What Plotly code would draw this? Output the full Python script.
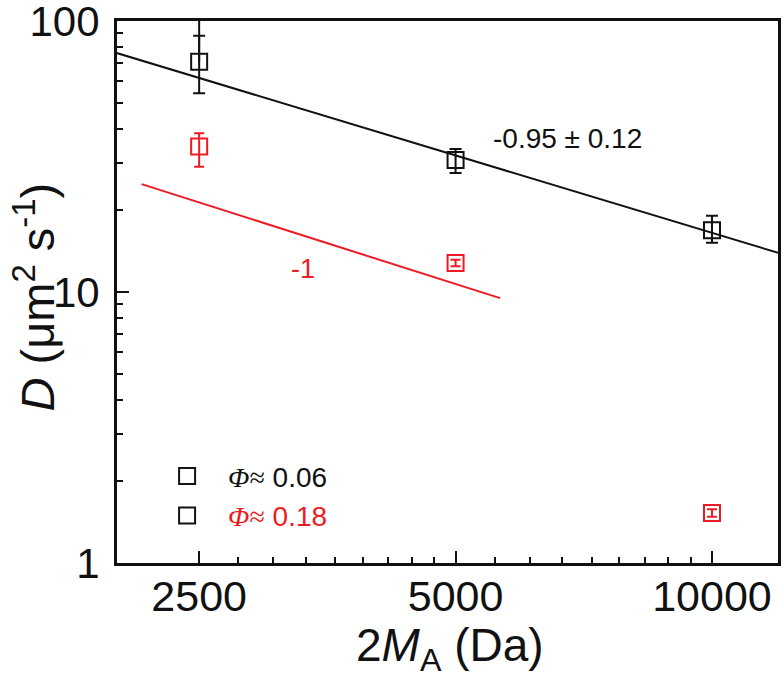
import plotly.graph_objects as go

# ---- data ----
mass = [2500, 5000, 10000]

d_low = [70.8, 30.7, 16.9]          # Phi ~ 0.06 (black)
d_low_up = [17.5, 3.0, 2.2]
d_low_dn = [16.7, 3.2, 1.7]
d_low_outer_up = [45.0]             # outer whisker of the 2500 point (runs past the frame)

d_high = [34.4, 12.8, 1.53]         # Phi ~ 0.18 (red)
d_high_up = [4.1, 0.35, 0.05]
d_high_dn = [5.4, 0.35, 0.05]

fit_low_x = [2000, 12000]           # slope -0.95 +/- 0.12
fit_low_y = [76.2, 13.9]
fit_high_x = [2140, 5640]           # slope -1 guide
fit_high_y = [25.0, 9.49]

x_tick_vals = [2500, 5000, 10000]
x_tick_text = ["2500", "5000", "10000"]
x_minor_vals = [2500 * (1 + k / 9) for k in range(1, 9)] + [5000 * (1 + k / 9) for k in range(1, 9)]
y_tick_vals = [1, 10, 100]
y_tick_text = ["1", "10", "100"]
y_minor_vals = [m * d for d in (1, 10) for m in range(2, 10)]

BLACK = "#111111"
RED = "#ED1C24"
FONT = "Liberation Sans, Arial, sans-serif"
SERIF = "Liberation Serif, Times New Roman, serif"

fig = go.Figure()

# fit lines
fig.add_trace(go.Scatter(x=fit_low_x, y=fit_low_y, mode="lines",
                         line=dict(color=BLACK, width=2), showlegend=False, hoverinfo="skip"))
fig.add_trace(go.Scatter(x=fit_high_x, y=fit_high_y, mode="lines",
                         line=dict(color=RED, width=2), showlegend=False, hoverinfo="skip"))

# outer whisker of first black point
fig.add_trace(go.Scatter(
    x=mass[:1], y=d_low[:1], mode="none", showlegend=False, hoverinfo="skip",
    error_y=dict(type="data", array=d_low_outer_up, arrayminus=[0], symmetric=False,
                 color=BLACK, thickness=2, width=0)))

# data
fig.add_trace(go.Scatter(
    x=mass, y=d_low, mode="markers", showlegend=False,
    marker=dict(symbol="square-open", size=16, color=BLACK, line=dict(width=2)),
    error_y=dict(type="data", array=d_low_up, arrayminus=d_low_dn, symmetric=False,
                 color=BLACK, thickness=2, width=6)))
fig.add_trace(go.Scatter(
    x=mass, y=d_high, mode="markers", showlegend=False,
    marker=dict(symbol="square-open", size=16, color=RED, line=dict(width=2)),
    error_y=dict(type="data", array=d_high_up, arrayminus=d_high_dn, symmetric=False,
                 color=RED, thickness=2, width=5)))

# legend entries (black squares, coloured labels)
phi = f"<span style=\"font-family:{SERIF}\"><i>Φ</i>≈</span>"
fig.add_trace(go.Scatter(x=[None], y=[None], mode="markers",
                         marker=dict(symbol="square-open", size=16, color=BLACK, line=dict(width=2)),
                         name=f"<span style='color:{BLACK}'>{phi} 0.06</span>"))
fig.add_trace(go.Scatter(x=[None], y=[None], mode="markers",
                         marker=dict(symbol="square-open", size=16, color=BLACK, line=dict(width=2)),
                         name=f"<span style='color:{RED}'>{phi} 0.18</span>"))

fig.update_layout(
    width=783, height=678,
    margin=dict(l=117, r=5, t=21, b=115, autoexpand=False),
    paper_bgcolor="white", plot_bgcolor="white",
    font=dict(family=FONT, color=BLACK),
    showlegend=True,
    legend=dict(x=0.044, y=0.206, xanchor="left", yanchor="top",
                bgcolor="rgba(0,0,0,0)", font=dict(size=28, family=FONT),
                itemwidth=72, tracegroupgap=0),
    xaxis=dict(type="log", range=[3.3015, 4.0775], automargin=False,
               tickvals=x_tick_vals, ticktext=x_tick_text,
               ticks="inside", ticklen=12, tickwidth=2, tickcolor=BLACK,
               minor=dict(tickvals=x_minor_vals, ticks="inside", ticklen=6, tickwidth=2,
                          tickcolor=BLACK, showgrid=False),
               showline=True, linewidth=3, linecolor=BLACK, mirror=True,
               showgrid=False, zeroline=False, ticklabeloverflow="allow",
               tickfont=dict(size=43, family=FONT, color=BLACK), ticklabelstandoff=-7),
    yaxis=dict(type="log", range=[0, 2], automargin=False,
               tickvals=y_tick_vals, ticktext=y_tick_text,
               ticks="inside", ticklen=12, tickwidth=2, tickcolor=BLACK,
               minor=dict(tickvals=y_minor_vals, ticks="inside", ticklen=6, tickwidth=2,
                          tickcolor=BLACK, showgrid=False),
               showline=True, linewidth=3, linecolor=BLACK, mirror=True,
               showgrid=False, zeroline=False, ticklabeloverflow="allow",
               tickfont=dict(size=42, family=FONT, color=BLACK), ticklabelstandoff=6),
    annotations=[
        dict(text="-0.95 ± 0.12", xref="paper", yref="paper", x=0.682, y=0.784,
             xanchor="center", yanchor="middle",
             showarrow=False, font=dict(size=28, color=BLACK, family=FONT)),
        dict(text="-1", xref="paper", yref="paper", x=0.281, y=0.542,
             xanchor="center", yanchor="middle",
             showarrow=False, font=dict(size=27, color=RED, family=FONT)),
        dict(text="2<i>M</i><sub>A</sub> (Da)", xref="paper", yref="paper", x=0.504, y=-0.157,
             xanchor="center", yanchor="middle",
             showarrow=False, font=dict(size=46, color=BLACK, family=FONT)),
        dict(text="<i>D</i> (μm<sup>2</sup> s<sup>-1</sup>)", xref="paper", yref="paper",
             x=-0.124, y=0.49, textangle=-90, xanchor="center", yanchor="middle",
             showarrow=False, font=dict(size=47, color=BLACK, family=FONT)),
    ],
)

fig.write_html("out.html")
